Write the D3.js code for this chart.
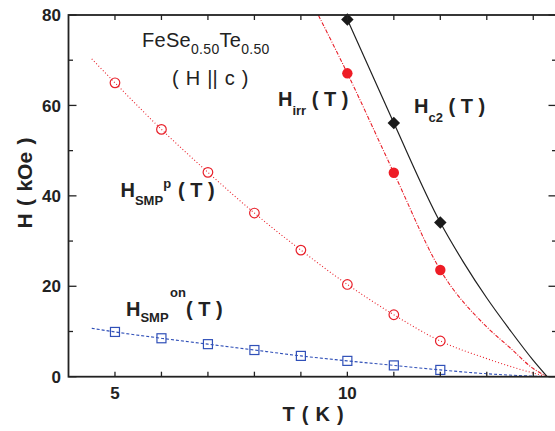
<!DOCTYPE html>
<html><head><meta charset="utf-8">
<script src="https://cdn.jsdelivr.net/npm/d3@7"></script>
<style>body{margin:0;background:#fff}svg{display:block;font-family:"Liberation Sans",Arial,sans-serif}</style>
</head><body><svg id="c" width="555" height="431"></svg>
<script>
// ---- data ----
const smpOnT = [5, 6, 7, 8, 9, 10, 11, 12];
const smpOnH = [9.9, 8.5, 7.2, 5.9, 4.6, 3.5, 2.5, 1.5];
const smpPT = [5, 6, 7, 8, 9, 10, 11, 12];
const smpPH = [65.0, 54.7, 45.2, 36.2, 28.0, 20.4, 13.7, 7.9];
const irrT = [10, 11, 12];
const irrH = [67.1, 45.1, 23.6];
const hc2T = [10, 11, 12];
const hc2H = [79.0, 56.1, 34.1];
// fitted guide curves
const smpOnFitT = [4.5, 5, 6, 7, 8, 9, 10, 11, 12, 13, 14.3];
const smpOnFitH = [10.7, 9.9, 8.5, 7.2, 5.9, 4.6, 3.5, 2.5, 1.5, 0.65, 0];
const smpPFitT = [4.5, 5, 6, 7, 8, 9, 10, 11, 12, 13, 14, 14.3];
const smpPFitH = [70.3, 65.0, 54.7, 45.2, 36.2, 28.0, 20.4, 13.7, 7.9, 4.0, 0.8, 0];
const irrFitT = [9.3, 10, 11, 12, 13, 13.5, 14, 14.3];
const irrFitH = [81.5, 67.1, 45.1, 23.6, 11.0, 6.4, 1.8, 0];
const hc2FitT = [9.85, 10, 11, 12, 12.5, 13, 13.5, 14, 14.3];
const hc2FitH = [82.5, 79.0, 56.1, 34.1, 25.3, 17.4, 10.3, 3.6, 0];
const xTickLabels = [5, 10];
const xMinorTicks = [5, 6, 7, 8, 9, 10, 11, 12, 13, 14];
const yTickLabels = [0, 20, 40, 60, 80];
const yMinorTicks = [10, 30, 50, 70];

// ---- layout ----
const svg = d3.select("#c");
const L = 68.5, R = 556.5, T = 15, B = 376.7;
const x = d3.scaleLinear().domain([4, 14.5]).range([L, R]);
const y = d3.scaleLinear().domain([0, 80]).range([B, T]);
const axisCol = "#222";

svg.append("defs").append("clipPath").attr("id", "clip")
  .append("rect").attr("x", L).attr("y", T).attr("width", R - L).attr("height", B - T);

const pts = (a, b) => a.map((v, i) => [v, b[i]]);
const line = d3.line().x(d => x(d[0])).y(d => y(d[1])).curve(d3.curveMonotoneX);
const g = svg.append("g").attr("clip-path", "url(#clip)");

// fit curves
g.append("path").attr("d", line(pts(smpOnFitT, smpOnFitH))).attr("fill", "none")
  .attr("stroke", "#3050b8").attr("stroke-width", 1.1).attr("stroke-dasharray", "3,2");
g.append("path").attr("d", line(pts(smpPFitT, smpPFitH))).attr("fill", "none")
  .attr("stroke", "#e8202a").attr("stroke-width", 1.1).attr("stroke-dasharray", "1,2.2");
g.append("path").attr("d", line(pts(irrFitT, irrFitH))).attr("fill", "none")
  .attr("stroke", "#e8202a").attr("stroke-width", 1.1).attr("stroke-dasharray", "4,1.5,1,1.5");
g.append("path").attr("d", line(pts(hc2FitT, hc2FitH))).attr("fill", "none")
  .attr("stroke", "#222").attr("stroke-width", 1.2);

// markers
svg.append("g").selectAll("rect").data(pts(smpOnT, smpOnH)).join("rect")
  .attr("x", d => x(d[0]) - 4.5).attr("y", d => y(d[1]) - 4.5).attr("width", 9).attr("height", 9)
  .attr("fill", "none").attr("stroke", "#3050b8").attr("stroke-width", 1.2);
svg.append("g").selectAll("circle").data(pts(smpPT, smpPH)).join("circle")
  .attr("cx", d => x(d[0])).attr("cy", d => y(d[1])).attr("r", 4.8)
  .attr("fill", "none").attr("stroke", "#e8202a").attr("stroke-width", 1.2);
svg.append("g").selectAll("circle").data(pts(irrT, irrH)).join("circle")
  .attr("cx", d => x(d[0])).attr("cy", d => y(d[1])).attr("r", 5.2).attr("fill", "#ee1c25");
svg.append("g").selectAll("path").data(pts(hc2T, hc2H)).join("path")
  .attr("d", d3.symbol(d3.symbolSquare, 78)())
  .attr("transform", d => `translate(${x(d[0])},${y(d[1])}) rotate(45)`).attr("fill", "#1a1a1a");

// axes (ticks inward)
const ax = svg.append("g").attr("stroke", axisCol);
ax.append("rect").attr("x", L).attr("y", T).attr("width", R - L).attr("height", B - T)
  .attr("fill", "none").attr("stroke-width", 1.8);
xMinorTicks.forEach(t => {
  ax.append("line").attr("x1", x(t)).attr("x2", x(t)).attr("y1", B).attr("y2", B - 5).attr("stroke-width", 1.3);
  ax.append("line").attr("x1", x(t)).attr("x2", x(t)).attr("y1", T).attr("y2", T + 5).attr("stroke-width", 1.3);
});
yTickLabels.concat(yMinorTicks).forEach(v => {
  const len = yTickLabels.includes(v) ? 8 : 4.5;
  ax.append("line").attr("x1", L).attr("x2", L + len).attr("y1", y(v)).attr("y2", y(v)).attr("stroke-width", 1.3);
  ax.append("line").attr("x1", R).attr("x2", R - len).attr("y1", y(v)).attr("y2", y(v)).attr("stroke-width", 1.3);
});

// tick labels
svg.append("g").selectAll("text").data(xTickLabels).join("text")
  .attr("x", d => x(d)).attr("y", 399).attr("text-anchor", "middle")
  .attr("font-size", 17).attr("font-weight", "bold").attr("fill", "#222").text(d => d);
svg.append("g").selectAll("text").data(yTickLabels).join("text")
  .attr("x", 61).attr("y", d => y(d)).attr("dy", "0.36em").attr("text-anchor", "end")
  .attr("font-size", 17).attr("font-weight", "bold").attr("fill", "#222").text(d => d);

// axis titles
svg.append("text").attr("x", 313).attr("y", 421).attr("text-anchor", "middle")
  .attr("font-size", 20).attr("font-weight", "bold").attr("fill", "#222").attr("word-spacing", 1.5)
  .attr("xml:space", "preserve").text("T ( K )");
svg.append("text").attr("transform", "translate(32,183) rotate(-90)").attr("text-anchor", "middle")
  .attr("font-size", 21).attr("font-weight", "bold").attr("fill", "#222").attr("word-spacing", 1.5)
  .attr("xml:space", "preserve").text("H ( kOe )");

// annotations
function label(xp, yp, parts, size, weight, extra) {
  const t = svg.append("text").attr("x", xp).attr("y", yp).attr("font-size", size)
    .attr("font-weight", weight).attr("fill", "#222").attr("xml:space", "preserve");
  if (extra) Object.entries(extra).forEach(([k, v]) => t.attr(k, v));
  parts.forEach(p => {
    const s = t.append("tspan").text(p.t);
    if (p.fs) s.attr("font-size", p.fs);
    if (p.dy) s.attr("dy", p.dy);
    if (p.x) s.attr("x", p.x);
  });
  return t;
}
label(142, 46.7, [{t: "FeSe"}, {t: "0.50", fs: 14, dy: 7.6}, {t: "Te", dy: -7.6}, {t: "0.50", fs: 14, dy: 7.6}], 20, "normal", {"letter-spacing": 0.3});
label(172, 85, [{t: "( H || c )"}], 20, "normal", {"word-spacing": 1.5});
label(278, 106, [{t: "H"}, {t: "irr", fs: 13, dy: 9}, {t: " ( T )", dy: -9}], 20, "bold");
label(414, 113.3, [{t: "H"}, {t: "c2", fs: 13, dy: 8.5}, {t: " ( T )", dy: -8.5}], 20, "bold");
label(120.5, 197.3, [{t: "H"}, {t: "SMP", fs: 13, dy: 7.7}, {t: "p", fs: 13, dy: -17}, {t: "( T )", dy: 9.3, x: 178}], 20, "bold");
label(126, 315.7, [{t: "H"}, {t: "SMP", fs: 13, dy: 6.6}, {t: "on", fs: 13, dy: -25.5, x: 170}, {t: "( T )", dy: 18.9, x: 186}], 20, "bold");
</script></body></html>
